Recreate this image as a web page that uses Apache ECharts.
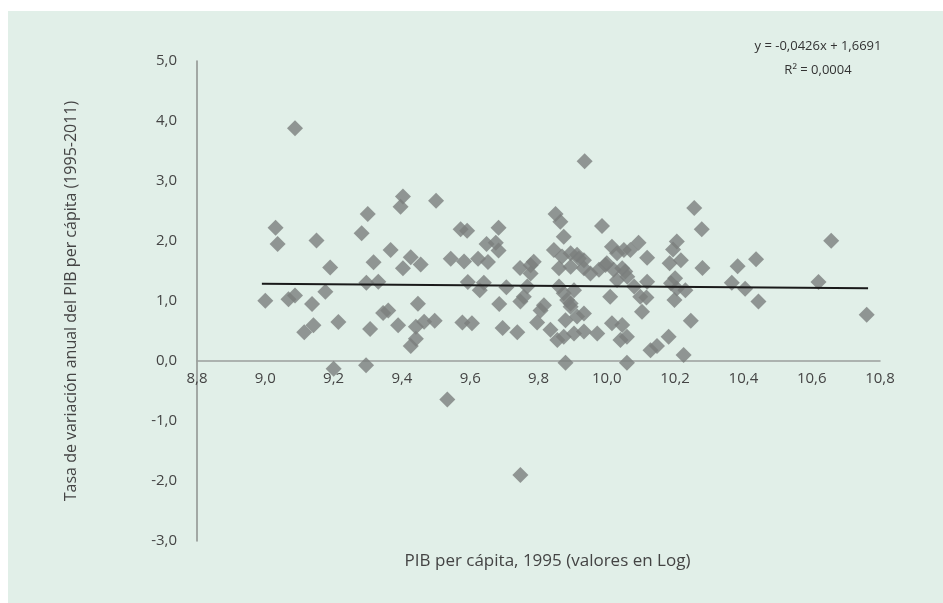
<!DOCTYPE html>
<html><head><meta charset="utf-8">
<script src="https://cdn.jsdelivr.net/npm/echarts@6/dist/echarts.min.js"></script>
<style>html,body{margin:0;padding:0;background:#fff;}#c{width:943px;height:603px;}</style>
</head><body><div id="c"></div>
<script>
// PIB per cápita 1995 (log) and tasa de variación anual (1995-2011)
const pibLog = [9.087,9.03,9.036,9.15,9.19,9.0,9.068,9.087,9.176,9.137,9.114,9.141,9.214,9.30,9.282,9.317,9.296,9.331,9.307,9.20,9.295,9.367,9.403,9.396,9.50,9.403,9.426,9.455,9.345,9.36,9.389,9.447,9.441,9.465,9.496,9.426,9.441,9.533,9.747,9.935,9.572,9.591,9.683,9.543,9.582,9.623,9.652,9.648,9.675,9.683,9.593,9.628,9.64,9.706,9.577,9.605,9.685,9.695,9.738,9.746,9.777,9.757,9.747,9.767,9.796,9.816,9.806,9.85,9.864,9.874,9.845,9.869,9.894,9.918,9.86,9.894,9.933,9.952,9.977,9.86,9.874,9.904,9.894,9.879,9.913,9.933,9.835,9.855,9.874,9.904,9.933,9.972,9.879,10.059,9.986,10.015,10.03,9.996,10.02,10.045,10.069,10.093,10.118,10.03,10.06,10.08,10.01,10.098,10.015,10.045,10.059,10.04,10.128,10.147,10.256,10.278,10.657,10.205,10.194,10.184,10.217,10.28,10.383,10.437,10.118,10.20,10.188,10.205,10.23,10.366,10.405,10.62,10.444,10.116,10.198,10.103,10.246,10.761,10.181,10.225,9.913,9.933,10.05,10.0,10.054,9.786,9.777,9.884,9.894];
const tasa = [3.88,2.22,1.95,2.01,1.56,1.005,1.03,1.09,1.155,0.95,0.48,0.595,0.65,2.45,2.13,1.645,1.305,1.32,0.533,-0.13,-0.07,1.85,2.74,2.57,2.67,1.545,1.73,1.61,0.80,0.84,0.595,0.955,0.57,0.655,0.67,0.25,0.37,-0.64,-1.90,3.33,2.195,2.17,2.22,1.705,1.66,1.705,1.65,1.95,1.97,1.84,1.317,1.18,1.305,1.23,0.64,0.63,0.95,0.55,0.48,1.55,1.595,1.07,0.99,1.24,0.64,0.93,0.84,2.45,2.32,2.07,1.85,1.74,1.795,1.71,1.545,1.57,1.545,1.46,1.52,1.24,1.13,1.18,0.96,0.68,0.74,0.79,0.52,0.35,0.405,0.46,0.49,0.46,-0.03,-0.03,2.25,1.905,1.795,1.6,1.52,1.545,1.85,1.97,1.72,1.35,1.405,1.24,1.07,1.07,0.63,0.6,0.405,0.35,0.18,0.25,2.55,2.195,2.005,1.99,1.86,1.63,1.68,1.55,1.58,1.695,1.32,1.38,1.295,1.21,1.18,1.305,1.205,1.317,0.99,1.06,1.017,0.82,0.67,0.77,0.405,0.10,1.77,1.68,1.85,1.63,1.49,1.655,1.46,1.017,0.905];
const trendX = [8.99, 10.765];
const trendY = [1.286, 1.211];
const xTitle = 'PIB per cápita, 1995 (valores en Log)';
const yTitle = 'Tasa de variación anual del PIB per cápita (1995-2011)';
const eqLines = ['y = -0,0426x + 1,6691', 'R² = 0,0004'];

const FONT = '"Open Sans", "Noto Sans", sans-serif';
const fmt = v => v.toFixed(1).replace('.', ',');
const chart = echarts.init(document.getElementById('c'), null, {renderer: 'canvas'});
chart.setOption({
  animation: false,
  backgroundColor: '#ffffff',
  graphic: [
    {type: 'rect', z: -10, silent: true, shape: {x: 8, y: 11, width: 935, height: 592}, style: {fill: '#e1efe8'}},
    {type: 'text', x: 818, y: 34, z: 10, silent: true, style: {text: eqLines.join('\n'), font: '13px ' + FONT, fill: '#333', textAlign: 'center', lineHeight: 24}}
  ],
  grid: {left: 197, right: 63, top: 61, bottom: 62, outerBoundsMode: 'none', containLabel: false},
  xAxis: {
    type: 'value', min: 8.8, max: 10.8, interval: 0.2,
    position: 'bottom', offset: -180,
    name: xTitle, nameLocation: 'middle', nameGap: 192,
    nameTextStyle: {color: '#444', fontFamily: FONT, fontSize: 17, padding: [0, 0, 0, 18]},
    axisLine: {show: true, onZero: false, lineStyle: {color: '#9a9e9c', width: 1.5}},
    axisTick: {show: false},
    splitLine: {show: false},
    axisLabel: {color: '#444', fontFamily: FONT, fontSize: 15, margin: 10, formatter: fmt}
  },
  yAxis: {
    type: 'value', min: -3, max: 5, interval: 1,
    name: yTitle, nameLocation: 'middle', nameGap: 118, nameRotate: 90,
    nameTextStyle: {color: '#444', fontFamily: FONT, fontSize: 16},
    axisLine: {show: true, onZero: false, lineStyle: {color: '#8c908e', width: 1.5}},
    axisTick: {show: false},
    splitLine: {show: false},
    axisLabel: {color: '#444', fontFamily: FONT, fontSize: 15, margin: 20, formatter: fmt}
  },
  series: [
    {
      type: 'scatter', symbol: 'diamond', symbolSize: 16,
      itemStyle: {color: '#7a7e7d'},
      data: pibLog.map((x, i) => [x, tasa[i]]),
      z: 3
    },
    {
      type: 'line', symbol: 'none', silent: true,
      lineStyle: {color: '#1a1a1a', width: 2},
      data: trendX.map((x, i) => [x, trendY[i]]),
      z: 4
    }
  ]
});
</script></body></html>
